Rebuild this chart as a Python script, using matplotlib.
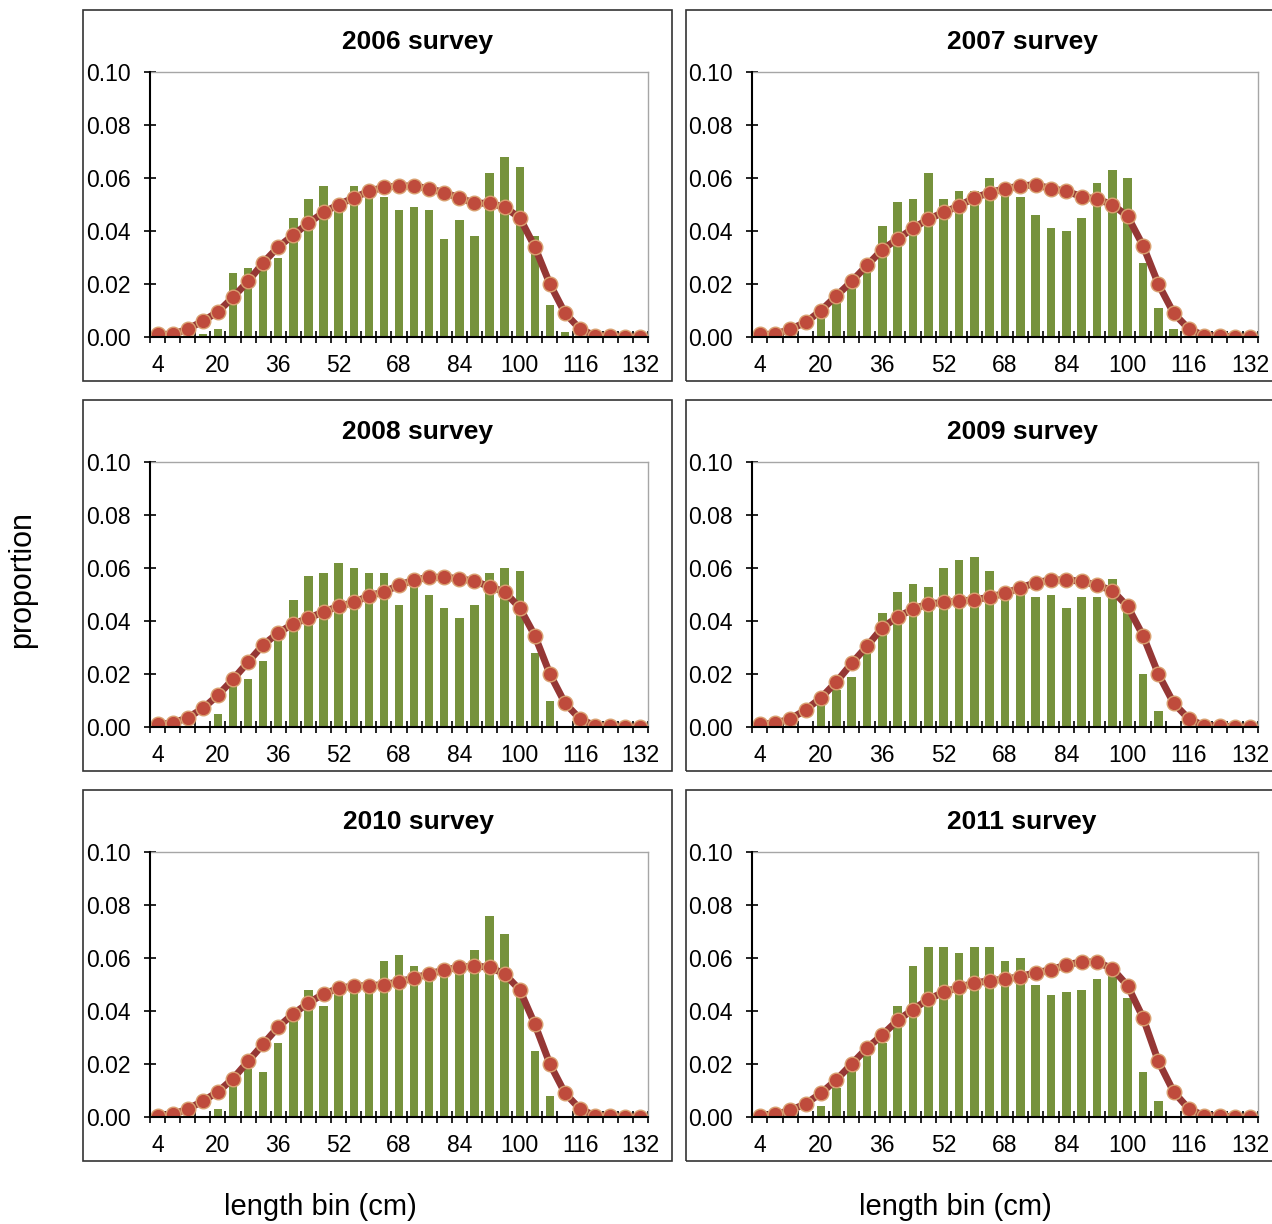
import matplotlib
matplotlib.use("Agg")
import matplotlib.pyplot as plt
from matplotlib.patches import Rectangle
import numpy as np

plt.rcParams['font.family'] = ['Liberation Sans', 'DejaVu Sans']

# length bins (cm)
bins = list(range(4, 133, 4))
years = ['2006', '2007', '2008', '2009', '2010', '2011']

# observed proportions (bars)
obs_2006 = [0, 0, 0, 0.001, 0.003, 0.024, 0.026, 0.026, 0.030, 0.045, 0.052, 0.057, 0.048,
            0.057, 0.055, 0.053, 0.048, 0.049, 0.048, 0.037, 0.044, 0.038, 0.062, 0.068,
            0.064, 0.038, 0.012, 0.002, 0, 0, 0, 0, 0]
obs_2007 = [0, 0, 0, 0.0005, 0.008, 0.013, 0.019, 0.025, 0.042, 0.051, 0.052, 0.062, 0.052,
            0.055, 0.055, 0.060, 0.058, 0.053, 0.046, 0.041, 0.040, 0.045, 0.058, 0.063,
            0.060, 0.028, 0.011, 0.003, 0, 0, 0, 0, 0]
obs_2008 = [0, 0, 0, 0.0005, 0.005, 0.016, 0.018, 0.025, 0.033, 0.048, 0.057, 0.058, 0.062,
            0.060, 0.058, 0.058, 0.046, 0.053, 0.050, 0.045, 0.041, 0.046, 0.058, 0.060,
            0.059, 0.028, 0.010, 0.0005, 0, 0, 0, 0, 0]
obs_2009 = [0, 0, 0, 0.0005, 0.0085, 0.014, 0.019, 0.029, 0.043, 0.051, 0.054, 0.053, 0.060,
            0.063, 0.064, 0.059, 0.050, 0.051, 0.049, 0.050, 0.045, 0.049, 0.049, 0.056,
            0.044, 0.020, 0.006, 0.0005, 0, 0, 0, 0, 0]
obs_2010 = [0, 0, 0, 0.0005, 0.003, 0.013, 0.018, 0.017, 0.028, 0.037, 0.048, 0.042, 0.048,
            0.049, 0.049, 0.059, 0.061, 0.057, 0.052, 0.054, 0.055, 0.063, 0.076, 0.069,
            0.046, 0.025, 0.008, 0.0005, 0, 0, 0, 0, 0]
obs_2011 = [0, 0, 0, 0.0005, 0.004, 0.011, 0.018, 0.023, 0.028, 0.042, 0.057, 0.064, 0.064,
            0.062, 0.064, 0.064, 0.059, 0.060, 0.050, 0.046, 0.047, 0.048, 0.052, 0.055,
            0.045, 0.017, 0.006, 0.0005, 0, 0, 0, 0, 0]

# expected proportions (line)
exp_2006 = [0.001, 0.001, 0.003, 0.006, 0.0095, 0.015, 0.021, 0.028, 0.034, 0.0385, 0.043,
            0.047, 0.050, 0.0525, 0.055, 0.0565, 0.057, 0.057, 0.056, 0.0545, 0.0525, 0.0505,
            0.0505, 0.049, 0.045, 0.034, 0.020, 0.009, 0.003, 0.0005, 0.0005, 0, 0]
exp_2007 = [0.001, 0.001, 0.003, 0.0055, 0.010, 0.0155, 0.021, 0.027, 0.033, 0.037, 0.041,
            0.0445, 0.047, 0.0495, 0.0525, 0.0545, 0.056, 0.057, 0.0575, 0.056, 0.055, 0.053,
            0.052, 0.050, 0.0455, 0.0345, 0.020, 0.009, 0.003, 0.0005, 0.0005, 0, 0]
exp_2008 = [0.001, 0.0015, 0.0035, 0.007, 0.012, 0.018, 0.0245, 0.031, 0.0355, 0.039, 0.041,
            0.0435, 0.0455, 0.047, 0.0495, 0.051, 0.0535, 0.0555, 0.0565, 0.0565, 0.056, 0.055,
            0.053, 0.051, 0.045, 0.0345, 0.020, 0.009, 0.003, 0.0005, 0.0005, 0, 0]
exp_2009 = [0.001, 0.0015, 0.003, 0.0065, 0.011, 0.017, 0.024, 0.0305, 0.0375, 0.0415, 0.0445,
            0.0465, 0.047, 0.0475, 0.048, 0.049, 0.0505, 0.0525, 0.0545, 0.0555, 0.0555, 0.055,
            0.0535, 0.0515, 0.0455, 0.0345, 0.020, 0.009, 0.003, 0.0005, 0.0005, 0, 0]
exp_2010 = [0.0005, 0.001, 0.003, 0.006, 0.0095, 0.0145, 0.021, 0.0275, 0.034, 0.039, 0.043,
            0.0465, 0.0485, 0.0495, 0.0495, 0.050, 0.051, 0.0525, 0.054, 0.0555, 0.0565, 0.057,
            0.0565, 0.054, 0.048, 0.035, 0.020, 0.009, 0.003, 0.0005, 0.0005, 0, 0]
exp_2011 = [0.0005, 0.001, 0.0025, 0.005, 0.009, 0.014, 0.020, 0.026, 0.031, 0.0365, 0.0405,
            0.0445, 0.047, 0.049, 0.0505, 0.0515, 0.052, 0.053, 0.0545, 0.0555, 0.0575, 0.0585,
            0.0585, 0.056, 0.0495, 0.0375, 0.021, 0.0095, 0.003, 0.0005, 0.0005, 0, 0]

observed = [obs_2006, obs_2007, obs_2008, obs_2009, obs_2010, obs_2011]
expected = [exp_2006, exp_2007, exp_2008, exp_2009, exp_2010, exp_2011]

W, H = 1272, 1224
fig = plt.figure(figsize=(12.72, 12.24), dpi=100)

# pixel layout of the panels (left, right) x (top, bottom)
cols = [(150, 648), (752, 1258)]
rows = [(72, 337), (462, 727), (852, 1117)]
boxes_x = [(83, 672), (686, 1290)]
boxes_y = [(10, 381), (400, 771), (790, 1161)]
title_x = [418, 1022]

x = np.arange(len(bins))
for k, yr in enumerate(years):
    r, c = divmod(k, 2)
    # outer chart box
    bx0, bx1 = boxes_x[c]
    by0, by1 = boxes_y[r]
    fig.patches.append(Rectangle((bx0 / W, 1 - by1 / H), (bx1 - bx0) / W, (by1 - by0) / H,
                                 transform=fig.transFigure, fill=False, ec='#333333', lw=1.2))
    fig.text(title_x[c] / W, 1 - (by0 + 32) / H, yr + ' survey', ha='center', va='center',
             fontsize=19, fontweight='bold')

    l, rr = cols[c]
    t, b = rows[r]
    ax = fig.add_axes([l / W, 1 - b / H, (rr - l) / W, (b - t) / H])
    ax.bar(x, observed[k], width=0.55, color='#76923C', zorder=2)
    ax.plot(x, expected[k], color='#953735', lw=5, zorder=3)
    ax.plot(x, expected[k], ls='none', marker='o', ms=10.5, mfc='#BF4B3C', mec='#D9A070',
            mew=1, zorder=4)

    ax.set_xlim(-0.5, len(bins) - 0.5)
    ax.set_ylim(0, 0.10)
    ax.set_yticks(np.arange(0, 0.101, 0.02))
    ax.set_yticklabels(['%.2f' % v for v in np.arange(0, 0.101, 0.02)])
    ax.set_xticks(x[::4])
    ax.set_xticklabels([str(bins[i]) for i in x[::4]])
    ax.set_xticks(np.arange(-0.5, len(bins), 1), minor=True)
    ax.tick_params(axis='x', which='major', length=0, pad=12, labelsize=16.5)
    ax.tick_params(axis='x', which='minor', direction='inout', length=9, width=1.2)
    ax.tick_params(axis='y', direction='inout', length=9, width=1.2, pad=9.5, labelsize=16.5)
    for s in ['left', 'bottom']:
        ax.spines[s].set_linewidth(1.5)
        ax.spines[s].set_zorder(5)
    for s in ['top', 'right']:
        ax.spines[s].set_color('#A6A6A6')
        ax.spines[s].set_linewidth(1)

fig.text(22 / W, 1 - 580 / H, 'proportion', rotation=90, ha='center', va='center', fontsize=22)
fig.text(320 / W, 1 - 1207 / H, 'length bin (cm)', ha='center', va='center', fontsize=21)
fig.text(955 / W, 1 - 1207 / H, 'length bin (cm)', ha='center', va='center', fontsize=21)

fig.savefig('out.png', dpi=100)
